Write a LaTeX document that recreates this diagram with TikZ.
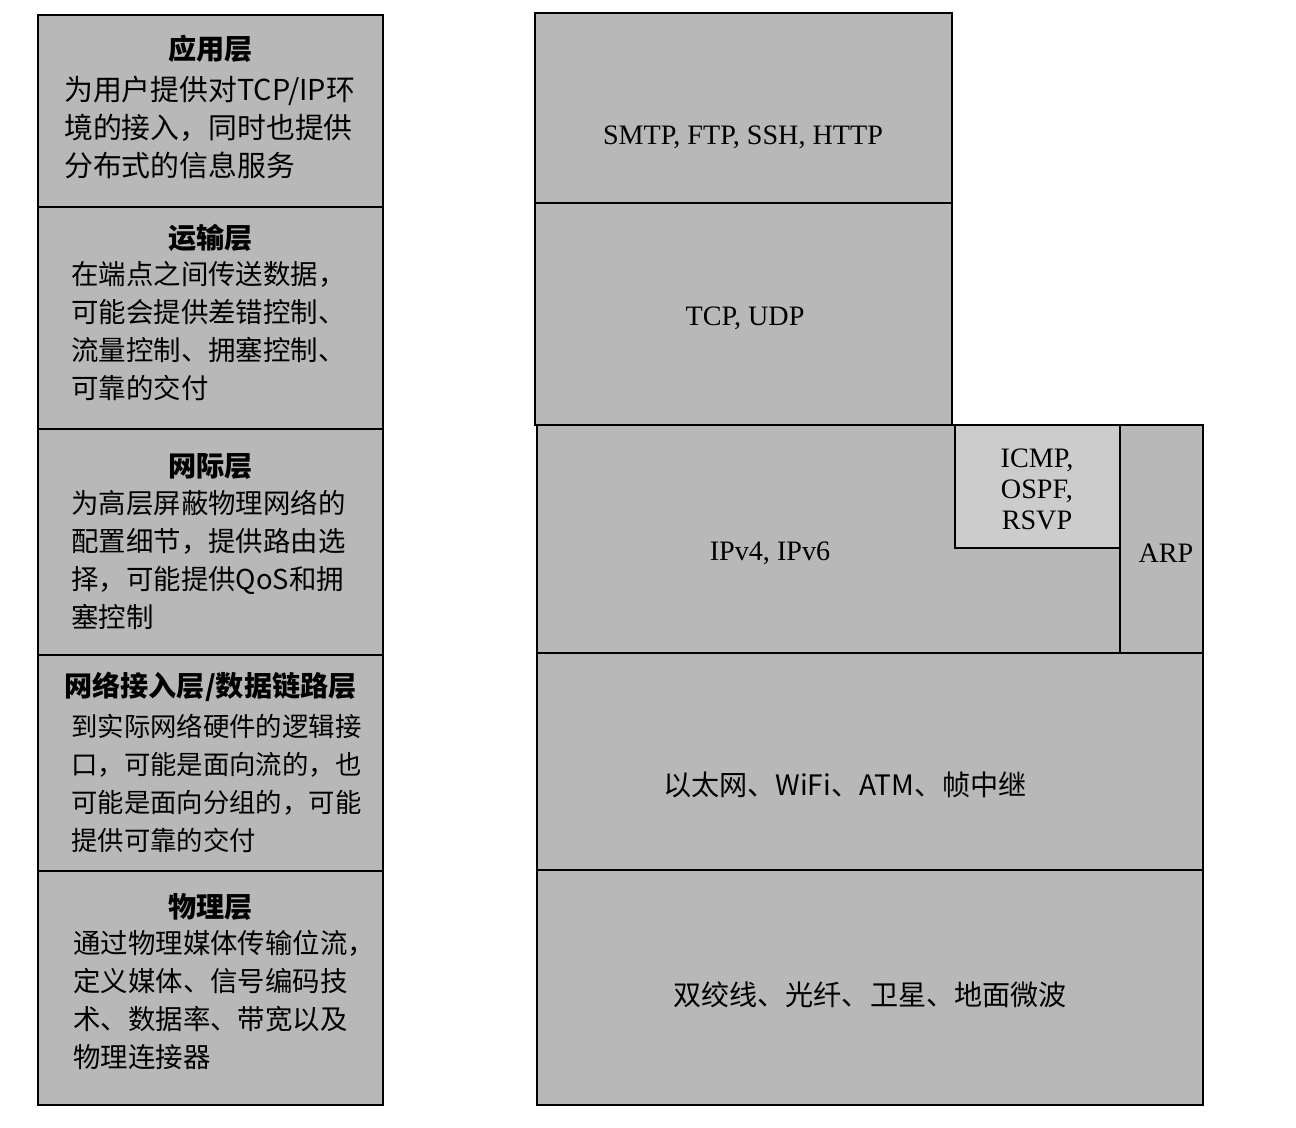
\documentclass[tikz,border=0pt]{standalone}
\usepackage{fontspec}
\setmainfont{Liberation Serif}
\newfontfamily\cjk{Noto Sans CJK SC}
\usetikzlibrary{positioning}
\tikzset{
layer/.style={ % every box of both stacks
draw, line width=0.8pt, fill=black!28, inner sep=0pt},
sz/.style 2 args={minimum width=#1*0.01cm, minimum height=#2*0.01cm},
title/.style={font=\cjk\fontsize{8}{10.8}\selectfont\bfseries, inner sep=0pt},
body/.style={font=\cjk\fontsize{7.8}{10.8}\selectfont, align=left, inner sep=0pt, anchor=north west},
proto/.style={font=\fontsize{8}{8.8}\selectfont, align=center, inner sep=0pt},
protocjk/.style={font=\cjk\fontsize{8}{10}\selectfont, inner sep=0pt}}

\begin{document}
\begin{tikzpicture}[x=0.01cm, y=-0.01cm]
\useasboundingbox (0,0) rectangle (1296,1128);
% left stack: layers and what they do
\node[layer, sz={345}{192}] (app) at (210.5,111) {};
\node[layer, sz={345}{222}] (trans) at (210.5,318) {};
\node[layer, sz={345}{226}] (inet) at (210.5,542) {};
\node[layer, sz={345}{216}] (link) at (210.5,763) {};
\node[layer, sz={345}{234}] (phys) at (210.5,988) {};
\node[title] (appT) at ([yshift=-0.35cm]app.north) {应用层};
\node[title] (transT) at ([yshift=-0.32cm]trans.north) {运输层};
\node[title] (inetT) at ([yshift=-0.39cm]inet.north) {网际层};
\node[title] (linkT) at ([yshift=-0.33cm]link.north) {网络接入层/数据链路层};
\node[title] (physT) at ([yshift=-0.37cm]phys.north) {物理层};
\node[body, font=\cjk\fontsize{8.2}{10.8}\selectfont] (appB) at ([xshift=0.27cm, yshift=-0.62cm]app.north west)
{为用户提供对TCP/IP环\\境的接入，同时也提供\\分布式的信息服务};
\node[body] (transB) at ([xshift=0.34cm, yshift=-0.55cm]trans.north west)
{在端点之间传送数据，\\可能会提供差错控制、\\流量控制、拥塞控制、\\可靠的交付};
\node[body] (inetB) at ([xshift=0.34cm, yshift=-0.62cm]inet.north west)
{为高层屏蔽物理网络的\\配置细节，提供路由选\\择，可能提供QoS和拥\\塞控制};
\node[body, font=\cjk\fontsize{7.5}{10.8}\selectfont] (linkB) at ([xshift=0.34cm, yshift=-0.6cm]link.north west)
{到实际网络硬件的逻辑接\\口，可能是面向流的，也\\可能是面向分组的，可能\\提供可靠的交付};
\node[body] (physB) at ([xshift=0.36cm, yshift=-0.6cm]phys.north west)
{通过物理媒体传输位流，\\定义媒体、信号编码技\\术、数据率、带宽以及\\物理连接器};
% right stack: protocols
\node[layer, sz={417}{190}] (smtp) at (743.5,108) {};
\node[layer, sz={417}{222}] (tcp) at (743.5,314) {};
\node[layer, sz={583}{228}] (ip) at (828.5,539) {};
\node[layer, sz={165}{123}, fill=black!20] (icmp) at (1037.5,486.5) {};
\node[layer, sz={83}{228}] (arp) at (1161.5,539) {};
\node[layer, sz={666}{217}] (eth) at (870,761.5) {};
\node[layer, sz={666}{235}] (wire) at (870,987.5) {};
\node[proto] (smtpL) at (743,137) {SMTP, FTP, SSH, HTTP};
\node[proto] (tcpL) at (745,318) {TCP, UDP};
\node[proto] (ipL) at (770,553) {IPv4, IPv6};
\node[proto] (icmpL) at (1037,489) {ICMP,\\OSPF,\\RSVP};
\node[proto] (arpL) at (1166,553) {ARP};
\node[protocjk] (ethL) at (845,785) {以太网、WiFi、ATM、帧中继};
\node[protocjk] (wireL) at (870,995) {双绞线、光纤、卫星、地面微波};
\end{tikzpicture}
\end{document}
